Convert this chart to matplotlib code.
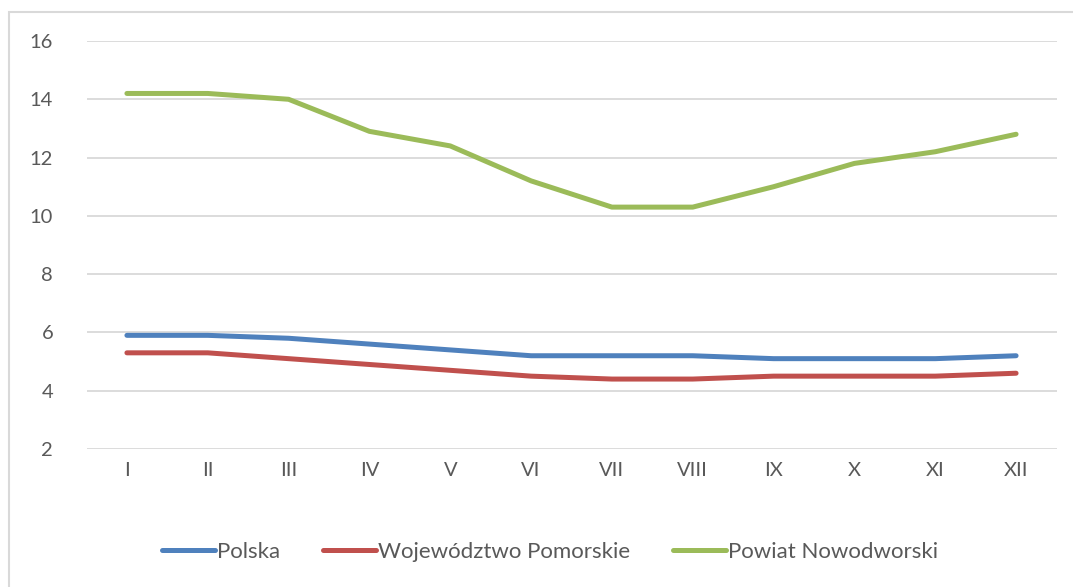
import matplotlib.pyplot as plt
from matplotlib.patches import Rectangle

months = ["I", "II", "III", "IV", "V", "VI", "VII", "VIII", "IX", "X", "XI", "XII"]
polska = [5.9, 5.9, 5.8, 5.6, 5.4, 5.2, 5.2, 5.2, 5.1, 5.1, 5.1, 5.2]
pomorskie = [5.3, 5.3, 5.1, 4.9, 4.7, 4.5, 4.4, 4.4, 4.5, 4.5, 4.5, 4.6]
nowodworski = [14.2, 14.2, 14.0, 12.9, 12.4, 11.2, 10.3, 10.3, 11.0, 11.8, 12.2, 12.8]

plt.rcParams['font.family'] = ['Lato', 'DejaVu Sans']

fig = plt.figure(figsize=(10.73, 5.87), dpi=100)
ax = fig.add_axes([86.5 / 1073, 1 - 449 / 587, 970 / 1073, 408 / 587])

# outer chart border like in Excel
fig.patches.append(Rectangle((9 / 1073, -0.1), 1.2, 1 - 12 / 587 + 0.1,
                             transform=fig.transFigure, fill=False,
                             edgecolor="#d9d9d9", linewidth=1.5))

x = list(range(len(months)))
series = [
    ("Polska", polska, "#4f81bd"),
    ("Województwo Pomorskie", pomorskie, "#c0504d"),
    ("Powiat Nowodworski", nowodworski, "#9bbb59"),
]
for name, vals, col in series:
    ax.plot(x, vals, color=col, linewidth=3.6, label=name,
            solid_capstyle="round", solid_joinstyle="round", zorder=3)

ax.set_xlim(-0.5, 11.5)
ax.set_ylim(2, 16)
ax.set_yticks([2, 4, 6, 8, 10, 12, 14, 16])
ax.set_xticks(x)
ax.set_xticklabels(months)
ax.yaxis.grid(True, color="#d9d9d9", linewidth=1.3)
ax.set_axisbelow(True)
for s in ax.spines.values():
    s.set_visible(False)
ax.tick_params(axis="both", length=0, colors="#595959", labelsize=14.5)
ax.tick_params(axis="y", pad=24)
ax.tick_params(axis="x", pad=9)

fig.legend(loc="center", bbox_to_anchor=(550 / 1073, 1 - 552 / 587), ncol=3,
           frameon=False, fontsize=16, labelcolor="#595959",
           handlelength=2.4, handletextpad=0.1, columnspacing=1.9)

fig.savefig("out.png", dpi=100)
